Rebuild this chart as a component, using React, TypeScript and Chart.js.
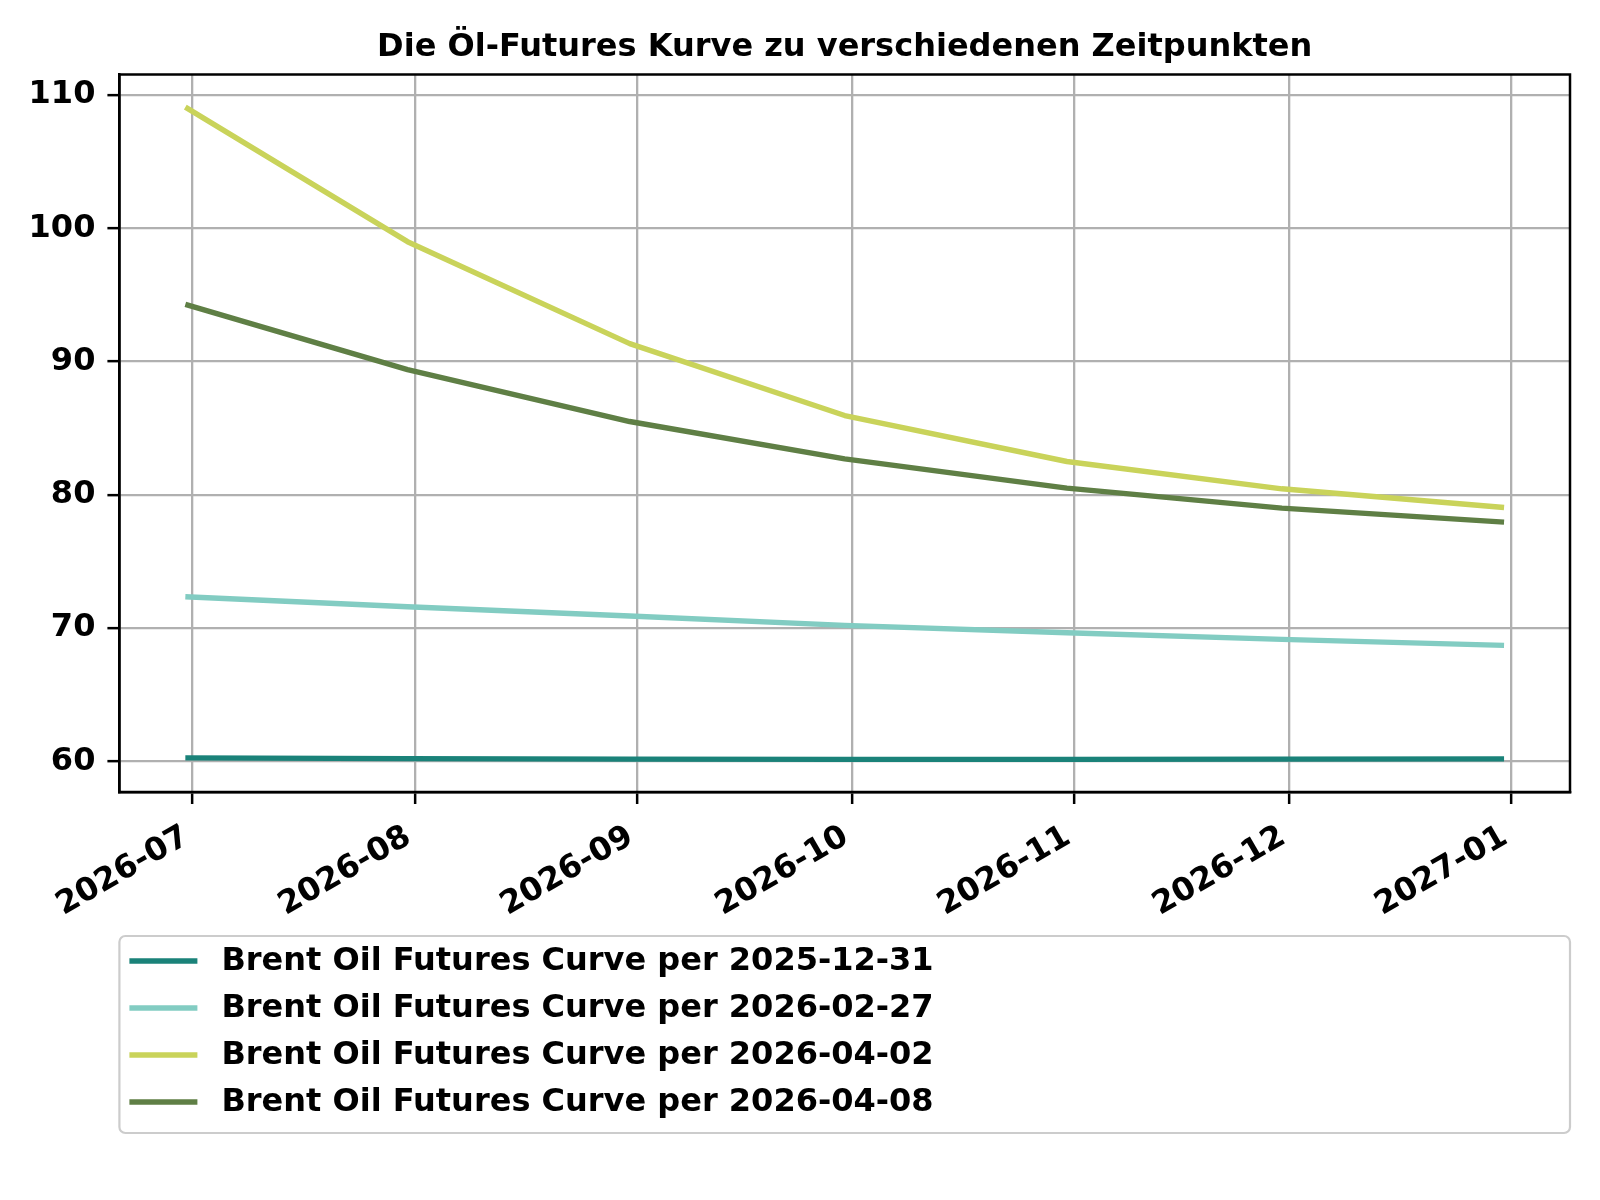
import React, { useEffect, useRef } from "react";
import { Chart, registerables } from "chart.js";

Chart.register(...registerables);

const chartTitle = "Die Öl-Futures Kurve zu verschiedenen Zeitpunkten";
const contractDates = ["2026-06-30", "2026-07-31", "2026-08-31", "2026-09-30", "2026-10-31", "2026-11-30", "2026-12-31"];
const seriesLabels = [
  "Brent Oil Futures Curve per 2025-12-31",
  "Brent Oil Futures Curve per 2026-02-27",
  "Brent Oil Futures Curve per 2026-04-02",
  "Brent Oil Futures Curve per 2026-04-08",
];
const curve20251231 = [60.25, 60.2, 60.16, 60.14, 60.14, 60.16, 60.18];
const curve20260227 = [72.35, 71.6, 70.9, 70.2, 69.65, 69.15, 68.7];
const curve20260402 = [109.1, 99.0, 91.35, 85.95, 82.5, 80.45, 79.05];
const curve20260408 = [94.3, 89.4, 85.5, 82.7, 80.5, 79.0, 77.95];
const seriesColors = ["#1a8279", "#82ccc2", "#c9d35a", "#5f7f45"];
const xTickDates = ["2026-07-01", "2026-08-01", "2026-09-01", "2026-10-01", "2026-11-01", "2026-12-01", "2027-01-01"];
const xTickLabels = ["2026-07", "2026-08", "2026-09", "2026-10", "2026-11", "2026-12", "2027-01"];
const yTickValues = [60, 70, 80, 90, 100, 110];

const FONT = "'DejaVu Sans', sans-serif";
const FS = 32;
const LW = 5.4;

const toDays = (s: string) => Date.parse(s + "T00:00:00Z") / 86400000;

const decorPlugin = {
  id: "decor",
  afterDatasetsDraw(chart: any) {
    const { ctx, chartArea } = chart;
    ctx.save();
    ctx.strokeStyle = "#000";
    ctx.lineWidth = 2.5;
    ctx.strokeRect(chartArea.left, chartArea.top, chartArea.right - chartArea.left, chartArea.bottom - chartArea.top);
    ctx.restore();
  },
  afterDraw(chart: any) {
    const { ctx, chartArea } = chart;
    ctx.save();
    // title
    ctx.fillStyle = "#000";
    ctx.font = `bold ${FS}px ${FONT}`;
    ctx.textAlign = "center";
    ctx.textBaseline = "middle";
    ctx.fillText(chartTitle, (chartArea.left + chartArea.right) / 2, chartArea.top - 27);
    // legend
    const L = chartArea.left;
    const R = chartArea.right;
    const T = chartArea.bottom + 144;
    const H = 197;
    ctx.beginPath();
    (ctx as any).roundRect(L, T, R - L, H, 6);
    ctx.fillStyle = "rgba(255,255,255,0.8)";
    ctx.fill();
    ctx.strokeStyle = "#cccccc";
    ctx.lineWidth = 2.2;
    ctx.stroke();
    chart.data.datasets.forEach((ds: any, i: number) => {
      const cy = T + 25 + i * 47;
      ctx.beginPath();
      ctx.moveTo(L + 10, cy);
      ctx.lineTo(L + 78, cy);
      ctx.strokeStyle = ds.borderColor;
      ctx.lineWidth = LW;
      ctx.stroke();
      ctx.fillStyle = "#000";
      ctx.font = `bold ${FS}px ${FONT}`;
      ctx.textAlign = "left";
      ctx.textBaseline = "middle";
      ctx.fillText(ds.label, L + 102, cy + 1);
    });
    ctx.restore();
  },
};

export default function App() {
  const canvasRef = useRef<HTMLCanvasElement | null>(null);

  useEffect(() => {
    const xs = contractDates.map(toDays);
    const allSeries = [curve20251231, curve20260227, curve20260402, curve20260408];
    const allY = allSeries.flat();
    const yMinD = Math.min(...allY);
    const yMaxD = Math.max(...allY);
    const yPad = (yMaxD - yMinD) * 0.05;
    const xMinD = Math.min(...xs);
    const xMaxD = Math.max(...xs);
    const xPad = (xMaxD - xMinD) * 0.05;
    const xTickVals = xTickDates.map(toDays);

    const chart = new Chart(canvasRef.current as HTMLCanvasElement, {
      type: "line",
      data: {
        datasets: allSeries.map((vals, i) => ({
          label: seriesLabels[i],
          data: vals.map((v, j) => ({ x: xs[j], y: v })),
          borderColor: seriesColors[i],
          backgroundColor: seriesColors[i],
          borderWidth: LW,
          pointRadius: 0,
          tension: 0,
          borderJoinStyle: "round",
          order: allSeries.length - i,
        })),
      },
      options: {
        animation: false,
        responsive: false,
        devicePixelRatio: 1,
        layout: { padding: { top: 74.5, right: 30, left: 0, bottom: 0 } },
        plugins: {
          legend: { display: false },
          title: { display: false },
          tooltip: { enabled: false },
        },
        scales: {
          x: {
            type: "linear",
            min: xMinD - xPad,
            max: xMaxD + xPad,
            afterBuildTicks: (scale: any) => {
              scale.ticks = xTickVals.map((v) => ({ value: v }));
            },
            afterFit: (scale: any) => {
              scale.height = 408;
            },
            ticks: {
              autoSkip: false,
              minRotation: 30,
              maxRotation: 30,
              padding: 14,
              labelOffset: -6,
              color: "#000",
              font: { family: FONT, size: FS, weight: "bold" },
              callback: (_v: any, i: number) => xTickLabels[i],
            },
            grid: {
              color: "#b0b0b0",
              lineWidth: 2.3,
              tickColor: "#000",
              tickWidth: 2.5,
              tickLength: 12,
              drawTicks: true,
            },
            border: { display: true, color: "#000", width: 2.5 },
          },
          y: {
            type: "linear",
            min: yMinD - yPad,
            max: yMaxD + yPad,
            afterBuildTicks: (scale: any) => {
              scale.ticks = yTickValues.map((v) => ({ value: v }));
            },
            afterFit: (scale: any) => {
              scale.width = 119.4;
            },
            ticks: {
              padding: 12,
              color: "#000",
              font: { family: FONT, size: FS, weight: "bold" },
              callback: (v: any) => String(v),
            },
            grid: {
              color: "#b0b0b0",
              lineWidth: 2.3,
              tickColor: "#000",
              tickWidth: 2.5,
              tickLength: 12,
              drawTicks: true,
            },
            border: { display: true, color: "#000", width: 2.5 },
          },
        },
      },
      plugins: [decorPlugin],
    } as any);

    return () => chart.destroy();
  }, []);

  return (
    <div style={{ position: "absolute", left: 0, top: 0, width: 1600, height: 1200, background: "#fff" }}>
      <canvas ref={canvasRef} width={1600} height={1200} style={{ width: 1600, height: 1200, display: "block" }} />
    </div>
  );
}
